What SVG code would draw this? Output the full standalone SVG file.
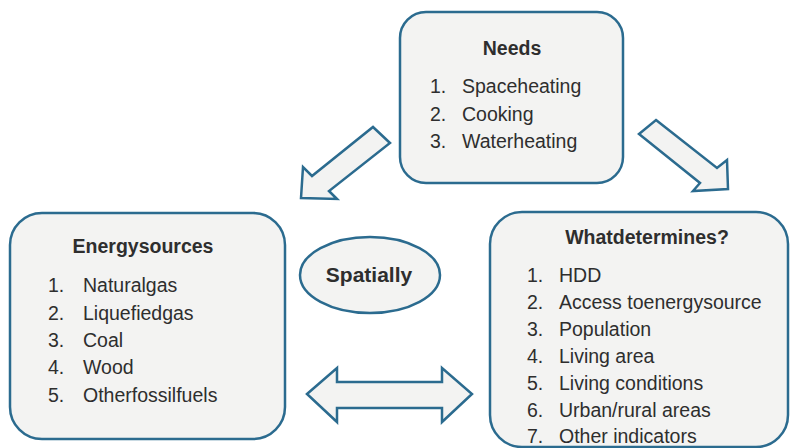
<svg xmlns="http://www.w3.org/2000/svg" width="793" height="448" viewBox="0 0 793 448">
<style>
.box{fill:#f3f3f2;stroke:#2b6b8f;stroke-width:2.5}
.arr{fill:#f3f3f2;stroke:#2b6b8f;stroke-width:2.5;stroke-linejoin:miter}
text{font-family:"Liberation Sans",Arial,sans-serif;fill:#2e2e2e;font-size:19.5px}
.t{font-weight:bold;text-anchor:middle;font-size:19.5px}
</style>
<rect width="793" height="448" fill="#fff"/>
<g id="needs">
<rect class="box" x="400" y="12" width="223" height="171" rx="26"/>
<text class="t" x="512" y="55">Needs</text>
<text x="430" y="93">1.</text><text x="462" y="93">Spaceheating</text>
<text x="430" y="121">2.</text><text x="462" y="121">Cooking</text>
<text x="430" y="148">3.</text><text x="462" y="148">Waterheating</text>
</g>
<g id="energy">
<rect class="box" x="10" y="213" width="275" height="226" rx="32"/>
<text class="t" x="143" y="253">Energysources</text>
<text x="48" y="292">1.</text><text x="83" y="292">Naturalgas</text>
<text x="48" y="320">2.</text><text x="83" y="320">Liquefiedgas</text>
<text x="48" y="347">3.</text><text x="83" y="347">Coal</text>
<text x="48" y="374">4.</text><text x="83" y="374">Wood</text>
<text x="48" y="402">5.</text><text x="83" y="402">Otherfossilfuels</text>
</g>
<g id="determines">
<rect class="box" x="490" y="212" width="298" height="235" rx="32"/>
<text class="t" x="647" y="244">Whatdetermines?</text>
<text x="527" y="282">1.</text><text x="559" y="282">HDD</text>
<text x="527" y="309">2.</text><text x="559" y="309">Access toenergysource</text>
<text x="527" y="336">3.</text><text x="559" y="336">Population</text>
<text x="527" y="363">4.</text><text x="559" y="363">Living area</text>
<text x="527" y="390">5.</text><text x="559" y="390">Living conditions</text>
<text x="527" y="417">6.</text><text x="559" y="417">Urban/rural areas</text>
<text x="527" y="443">7.</text><text x="559" y="443">Other indicators</text>
</g>
<g id="spatially">
<ellipse class="box" cx="370" cy="275" rx="70" ry="38"/>
<text class="t" x="369" y="282" style="font-size:21px">Spatially</text>
</g>
<g id="connectors">
<polygon class="arr" points="373,127 390,143 329,191 337,199 301,198 303,167 312,176"/>
<polygon class="arr" points="656,120 717,168 727,160 728,189 693,191 700,183 639,134"/>
<polygon class="arr" points="307,394 337,368 337,382 442,382 442,368 472,394 442,422 442,408 337,408 337,422"/>
</g>
</svg>
